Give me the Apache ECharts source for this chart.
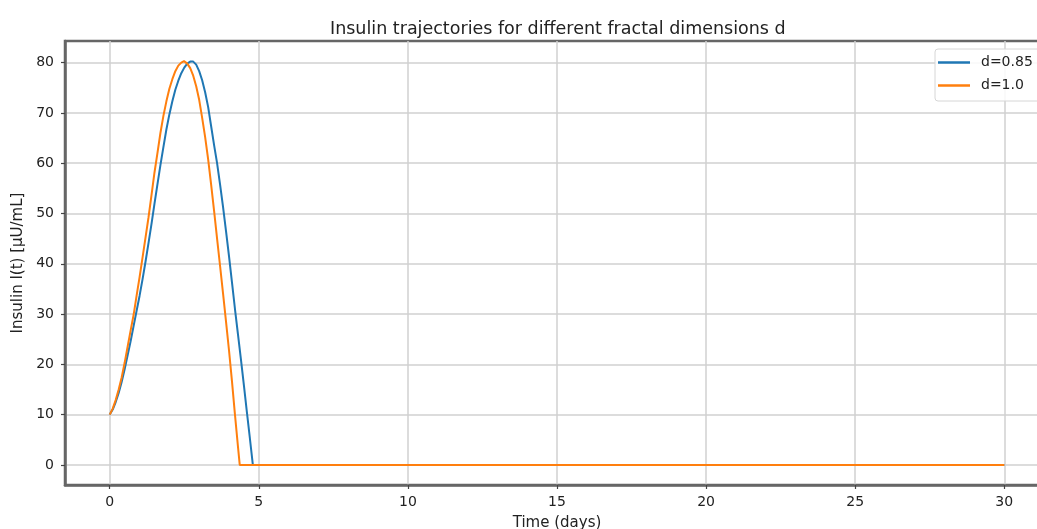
<!DOCTYPE html>
<html>
<head>
<meta charset="utf-8">
<script src="https://cdn.jsdelivr.net/npm/echarts@6/dist/echarts.min.js"></script>
<style>
html,body{margin:0;padding:0;background:#fff;overflow:hidden;width:1037px;height:529px;}
#chart{width:1070px;height:529px;}
</style>
</head>
<body>
<div id="chart"></div>
<script>
// ---- data ----
const seriesNames = ['d=0.85', 'd=1.0'];

const timeD085 = [0, 0.1, 0.2, 0.3, 0.4, 0.5, 0.6, 0.7, 0.8, 0.9, 1.0, 1.1, 1.2, 1.3, 1.4, 1.5, 1.6, 1.7, 1.8, 1.9, 2.0, 2.1, 2.2, 2.3, 2.4, 2.5, 2.6, 2.7, 2.75, 2.8, 2.9, 3.0, 3.1, 3.2, 3.3, 3.4, 3.5, 3.6, 3.7, 3.8, 3.9, 4.0, 4.1, 4.2, 4.3, 4.4, 4.5, 4.6, 4.7, 4.8, 30];
const insulinD085 = [10, 11.0, 12.5, 14.3, 16.5, 19.0, 21.8, 24.6, 27.6, 30.6, 33.6, 36.9, 40.4, 44.1, 47.9, 51.9, 55.8, 59.6, 63.2, 66.7, 69.7, 72.3, 74.6, 76.4, 77.9, 79.0, 79.8, 80.2, 80.3, 80.2, 79.6, 78.3, 76.5, 74.1, 71.2, 67.4, 63.6, 60.0, 55.8, 51.3, 46.5, 41.5, 36.3, 31.0, 26.0, 21.0, 15.8, 10.5, 5.3, 0, 0];

const timeD10 = [0, 0.1, 0.2, 0.3, 0.4, 0.5, 0.6, 0.7, 0.8, 0.9, 1.0, 1.1, 1.2, 1.3, 1.4, 1.5, 1.6, 1.7, 1.8, 1.9, 2.0, 2.1, 2.2, 2.3, 2.4, 2.49, 2.6, 2.7, 2.8, 2.9, 3.0, 3.1, 3.2, 3.3, 3.4, 3.5, 3.6, 3.7, 3.8, 3.9, 4.0, 4.1, 4.2, 4.3, 4.36, 30];
const insulinD10 = [10, 11.2, 12.9, 15.0, 17.4, 20.3, 23.5, 26.7, 29.8, 33.6, 37.3, 41.2, 45.2, 49.2, 53.6, 58.1, 62.0, 66.0, 69.4, 72.3, 74.8, 76.7, 78.3, 79.4, 80.0, 80.3, 79.8, 78.9, 77.4, 75.3, 72.6, 69.0, 65.2, 60.8, 55.8, 50.5, 45.0, 39.6, 34.1, 28.5, 22.8, 16.6, 10.0, 3.7, 0, 0];

const xTicks = [0, 5, 10, 15, 20, 25, 30];
const yTicks = [0, 10, 20, 30, 40, 50, 60, 70, 80];

const pairs = (t, v) => t.map((x, i) => [x, v[i]]);

const FONT = 'DejaVu Sans';
const chart = echarts.init(document.getElementById('chart'), null, {renderer: 'canvas'});
chart.setOption({
  animation: false,
  backgroundColor: '#ffffff',
  title: {
    text: 'Insulin trajectories for different fractal dimensions d',
    left: 325, top: 15,
    textStyle: {fontFamily: FONT, fontSize: 17.5, fontWeight: 'normal', color: '#222'}
  },
  grid: {
    left: 65, top: 41, width: 984, height: 444,
    outerBoundsMode: 'none', containLabel: false,
    show: true, borderColor: '#666', borderWidth: 2.5, backgroundColor: 'transparent'
  },
  legend: {
    data: seriesNames,
    orient: 'vertical',
    left: 935, top: 49,
    icon: 'rect',
    itemWidth: 32, itemHeight: 2.5,
    itemGap: 8,
    padding: [6, 10, 8, 3],
    backgroundColor: 'rgba(255,255,255,0.85)',
    borderColor: '#d6d6d6', borderWidth: 1, borderRadius: 3,
    textStyle: {fontFamily: FONT, fontSize: 14, color: '#222', lineHeight: 15, padding: [0, 0, 0, 6]}
  },
  xAxis: {
    type: 'value', min: -1.5, max: 31.5, splitNumber: 7,
    name: 'Time (days)', nameLocation: 'middle', nameGap: 31,
    nameTextStyle: {fontFamily: FONT, fontSize: 15, color: '#222'},
    axisLine: {show: true, onZero: false, lineStyle: {color: '#666', width: 2.5}},
    axisTick: {show: true, customValues: xTicks, length: 4, lineStyle: {color: '#444', width: 1.2}},
    axisLabel: {customValues: xTicks, margin: 10, fontFamily: FONT, fontSize: 14, color: '#222'},
    splitLine: {show: true, lineStyle: {color: '#d0d0d0', width: 1.5}}
  },
  yAxis: {
    type: 'value', min: -4.0, max: 84.3, splitNumber: 9,
    name: 'Insulin I(t) [µU/mL]', nameLocation: 'middle', nameGap: 35,
    nameTextStyle: {fontFamily: FONT, fontSize: 15, color: '#222'},
    axisLine: {show: true, onZero: false, lineStyle: {color: '#666', width: 2.5}},
    axisTick: {show: true, customValues: yTicks, length: 4, lineStyle: {color: '#444', width: 1.2}},
    axisLabel: {customValues: yTicks, margin: 11, fontFamily: FONT, fontSize: 14, color: '#222'},
    splitLine: {show: true, lineStyle: {color: '#d0d0d0', width: 1.5}}
  },
  series: [
    {
      name: seriesNames[0], type: 'line', data: pairs(timeD085, insulinD085),
      showSymbol: false, color: '#1f77b4',
      lineStyle: {width: 2, color: '#1f77b4'}
    },
    {
      name: seriesNames[1], type: 'line', data: pairs(timeD10, insulinD10),
      showSymbol: false, color: '#ff7f0e',
      lineStyle: {width: 2, color: '#ff7f0e'}
    }
  ]
});
</script>
</body>
</html>
